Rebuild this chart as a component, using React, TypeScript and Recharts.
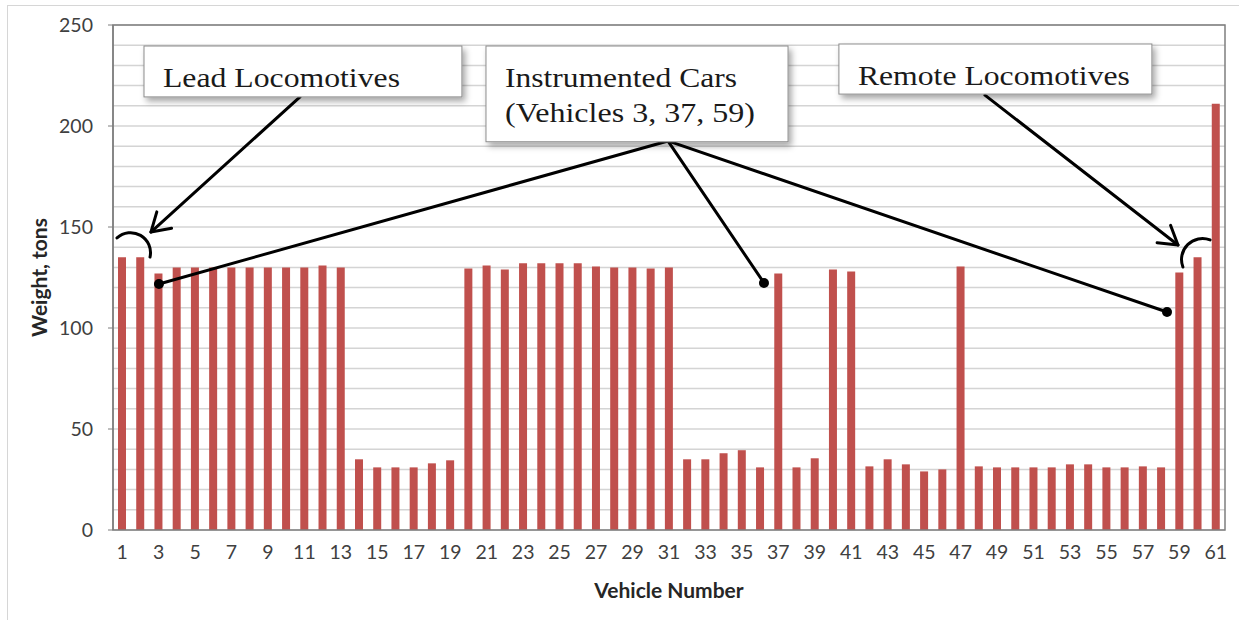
import {
  BarChart,
  Bar,
  XAxis,
  YAxis,
  CartesianGrid,
  ReferenceArea,
  ReferenceLine,
  ReferenceDot,
} from "recharts";

// vehicle number → gross weight (tons)
const VEHICLES = [
  1, 2, 3, 4, 5, 6, 7, 8, 9, 10, 11, 12, 13, 14, 15, 16, 17, 18, 19, 20,
  21, 22, 23, 24, 25, 26, 27, 28, 29, 30, 31, 32, 33, 34, 35, 36, 37, 38, 39, 40,
  41, 42, 43, 44, 45, 46, 47, 48, 49, 50, 51, 52, 53, 54, 55, 56, 57, 58, 59, 60, 61,
];
const WEIGHTS = [
  135, 135, 127, 130, 130, 130, 130, 130, 130, 130, 130, 131, 130, 35, 31, 31, 31, 33, 34.5, 129.5,
  131, 129, 132, 132, 132, 132, 130.5, 130, 130, 129.5, 130, 35, 35, 38, 39.5, 31, 127, 31, 35.5, 129,
  128, 31.5, 35, 32.5, 29, 30, 130.5, 31.5, 31, 31, 31, 31, 32.5, 32.5, 31, 31, 31.5, 31, 127.5, 135, 211,
];

const X_TICKS = [
  1, 3, 5, 7, 9, 11, 13, 15, 17, 19, 21, 23, 25, 27, 29, 31,
  33, 35, 37, 39, 41, 43, 45, 47, 49, 51, 53, 55, 57, 59, 61,
];
const Y_TICKS = [0, 50, 100, 150, 200, 250];
const Y_MAX = 250;
const GRID_TICKS = [
  0, 10, 20, 30, 40, 50, 60, 70, 80, 90, 100, 110, 120, 130, 140, 150, 160, 170,
  180, 190, 200, 210, 220, 230, 240, 250,
];
// small marks between the bars
const BOUNDARY_TICKS = Array.from({ length: 62 }, (_, i) => i + 0.5);

// callout boxes, in data units (vehicle, tons)
const BOXES = [
  { id: "lead", x1: 2.2, x2: 19.64, y1: 214.4, y2: 239.6, lines: ["Lead Locomotives"], widths: [237] },
  {
    id: "inst",
    x1: 20.96,
    x2: 37.53,
    y1: 192.2,
    y2: 239.6,
    lines: ["Instrumented Cars", "(Vehicles 3, 37, 59)"],
    widths: [232, 250],
  },
  { id: "remote", x1: 40.32, x2: 57.49, y1: 215.8, y2: 240.6, lines: ["Remote Locomotives"], widths: [272] },
];

const ARROWS = [
  { from: { x: 10.76, y: 214.4 }, to: { x: 2.58, y: 147.5 } },
  { from: { x: 48.33, y: 215.3 }, to: { x: 58.92, y: 141.1 } },
];

const POINTERS = [
  { from: { x: 30.94, y: 192.6 }, to: { x: 3.02, y: 121.8 } },
  { from: { x: 30.94, y: 192.6 }, to: { x: 36.21, y: 122.3 } },
  { from: { x: 30.94, y: 192.6 }, to: { x: 58.32, y: 107.9 } },
];

const BRACKETS = [
  { from: { x: 0.72, y: 144.6 }, to: { x: 2.53, y: 135.1 }, r: 20 },
  { from: { x: 59.19, y: 130.2 }, to: { x: 60.68, y: 143.6 }, r: 21 },
];

const data = VEHICLES.map((v, i) => ({ vehicle: v, weight: WEIGHTS[i] }));

// grid every 10 tons, placed with the y axis scale
const gridRows = (props: any) => {
  const scale = props?.yAxis?.scale;
  if (typeof scale === "function") return GRID_TICKS.map((v) => scale(v));
  if (scale && typeof scale.map === "function") return GRID_TICKS.map((v) => scale.map(v));
  const { top, height } = props.offset;
  return GRID_TICKS.map((v) => top + height * (1 - v / Y_MAX));
};

const ArrowShape = (p: any) => {
  const x1 = Number(p.x1), y1 = Number(p.y1), x2 = Number(p.x2), y2 = Number(p.y2);
  const a = Math.atan2(y1 - y2, x1 - x2);
  const len = 21;
  const s = 0.55;
  const h1 = `${x2 + len * Math.cos(a + s)},${y2 + len * Math.sin(a + s)}`;
  const h2 = `${x2 + len * Math.cos(a - s)},${y2 + len * Math.sin(a - s)}`;
  return (
    <g>
      <line x1={x1} y1={y1} x2={x2} y2={y2} stroke="#000" strokeWidth={3} strokeLinecap="round" />
      <polyline
        points={`${h1} ${x2},${y2} ${h2}`}
        fill="none"
        stroke="#000"
        strokeWidth={3}
        strokeLinecap="round"
        strokeLinejoin="round"
      />
    </g>
  );
};

const PlainLine = (p: any) => (
  <line x1={p.x1} y1={p.y1} x2={p.x2} y2={p.y2} stroke="#000" strokeWidth={3} strokeLinecap="round" />
);

const makeBracket = (r: number) => (p: any) => (
  <path
    d={`M ${p.x1} ${p.y1} A ${r} ${r} 0 0 1 ${p.x2} ${p.y2}`}
    fill="none"
    stroke="#000"
    strokeWidth={3}
    strokeLinecap="round"
  />
);

const makeBox = (id: string, lines: string[], widths: number[]) => (p: any) => (
  <g>
    <defs>
      <filter id={`shadow-${id}`} x="-10%" y="-20%" width="125%" height="150%">
        <feDropShadow dx={3} dy={4} stdDeviation={3} floodColor="#000" floodOpacity={0.35} />
      </filter>
    </defs>
    <rect
      x={p.x}
      y={p.y}
      width={p.width}
      height={p.height}
      fill="#fff"
      stroke="#8c8c8c"
      strokeWidth={1}
      filter={`url(#shadow-${id})`}
    />
    {lines.map((t, i) => (
      <text
        key={t}
        x={p.x + 19}
        y={p.y + 41 + i * 35}
        fontFamily="'Liberation Serif', 'Times New Roman', serif"
        fontSize={28}
        fill="#1a1a1a"
        textLength={widths[i]}
        lengthAdjust="spacingAndGlyphs"
      >
        {t}
      </text>
    ))}
  </g>
);

export default function App() {
  return (
    <div style={{ position: "absolute", left: 0, top: 0, width: 1239, height: 620, background: "#fff" }}>
      <div
        style={{
          position: "absolute",
          left: 7,
          top: 5,
          width: 1232,
          height: 615,
          borderTop: "1px solid #d6d6d6",
          borderLeft: "1px solid #d6d6d6",
        }}
      />
      <div style={{ position: "absolute", left: 0, top: 0, fontFamily: "Lato, 'Open Sans', sans-serif" }}>
        <BarChart width={1239} height={620} data={data} margin={{ top: 25, right: 14, bottom: 0, left: 0 }}>
          <CartesianGrid
            xAxisId="v"
            yAxisId="w"
            vertical={false}
            horizontalCoordinatesGenerator={gridRows}
            stroke="#d4d4d4"
            strokeWidth={1.5}
          />
          <XAxis
            xAxisId="m"
            dataKey="vehicle"
            type="number"
            domain={[0.5, 61.5]}
            ticks={BOUNDARY_TICKS}
            interval={0}
            height={0}
            tick={false}
            tickSize={6}
            tickLine={{ stroke: "#a6a6a6" }}
            axisLine={{ stroke: "#7f7f7f", strokeWidth: 1.5 }}
          />
          <XAxis
            xAxisId="v"
            dataKey="vehicle"
            type="number"
            domain={[0.5, 61.5]}
            ticks={X_TICKS}
            interval={0}
            height={90}
            axisLine={false}
            tickLine={false}
            tickSize={0}
            tickMargin={15}
            tick={{ fill: "#404040", fontSize: 19.5 }}
            label={{
              value: "Vehicle Number",
              position: "insideBottom",
              offset: 22,
              style: { fontWeight: 700, fontSize: 21, fill: "#262626" },
            }}
          />
          <YAxis
            yAxisId="w"
            domain={[0, Y_MAX]}
            ticks={Y_TICKS}
            width={113}
            tickSize={5}
            tickMargin={15}
            tick={{ fill: "#404040", fontSize: 19.5 }}
            axisLine={{ stroke: "#7f7f7f", strokeWidth: 1.5 }}
            tickLine={{ stroke: "#7f7f7f" }}
            label={{
              value: "Weight, tons",
              angle: -90,
              position: "insideLeft",
              offset: 40,
              style: { textAnchor: "middle", fontWeight: 700, fontSize: 21, fill: "#262626" },
            }}
          />
          <Bar
            xAxisId="v"
            yAxisId="w"
            dataKey="weight"
            fill="#c0504d"
            barSize={8}
            isAnimationActive={false}
          />
          <ReferenceArea
            xAxisId="v"
            yAxisId="w"
            x1={0.5}
            x2={61.5}
            y1={0}
            y2={Y_MAX}
            fill="none"
            fillOpacity={0}
            stroke="#7f7f7f"
            strokeWidth={1.5}
            zIndex={450}
          />
          {POINTERS.map((s, i) => (
            <ReferenceLine
              key={`p${i}`}
              xAxisId="v"
              yAxisId="w"
              segment={[s.from, s.to]}
              shape={PlainLine}
              zIndex={1500}
            />
          ))}
          {ARROWS.map((s, i) => (
            <ReferenceLine
              key={`a${i}`}
              xAxisId="v"
              yAxisId="w"
              segment={[s.from, s.to]}
              shape={ArrowShape}
              zIndex={1500}
            />
          ))}
          {BRACKETS.map((s, i) => (
            <ReferenceLine
              key={`b${i}`}
              xAxisId="v"
              yAxisId="w"
              segment={[s.from, s.to]}
              shape={makeBracket(s.r)}
              zIndex={1500}
            />
          ))}
          {POINTERS.map((s, i) => (
            <ReferenceDot
              key={`d${i}`}
              xAxisId="v"
              yAxisId="w"
              x={s.to.x}
              y={s.to.y}
              r={5}
              fill="#000"
              stroke="none"
              zIndex={1600}
            />
          ))}
          {BOXES.map((b) => (
            <ReferenceArea
              key={b.id}
              xAxisId="v"
              yAxisId="w"
              x1={b.x1}
              x2={b.x2}
              y1={b.y1}
              y2={b.y2}
              shape={makeBox(b.id, b.lines, b.widths)}
              zIndex={1700}
            />
          ))}
        </BarChart>
      </div>
    </div>
  );
}
